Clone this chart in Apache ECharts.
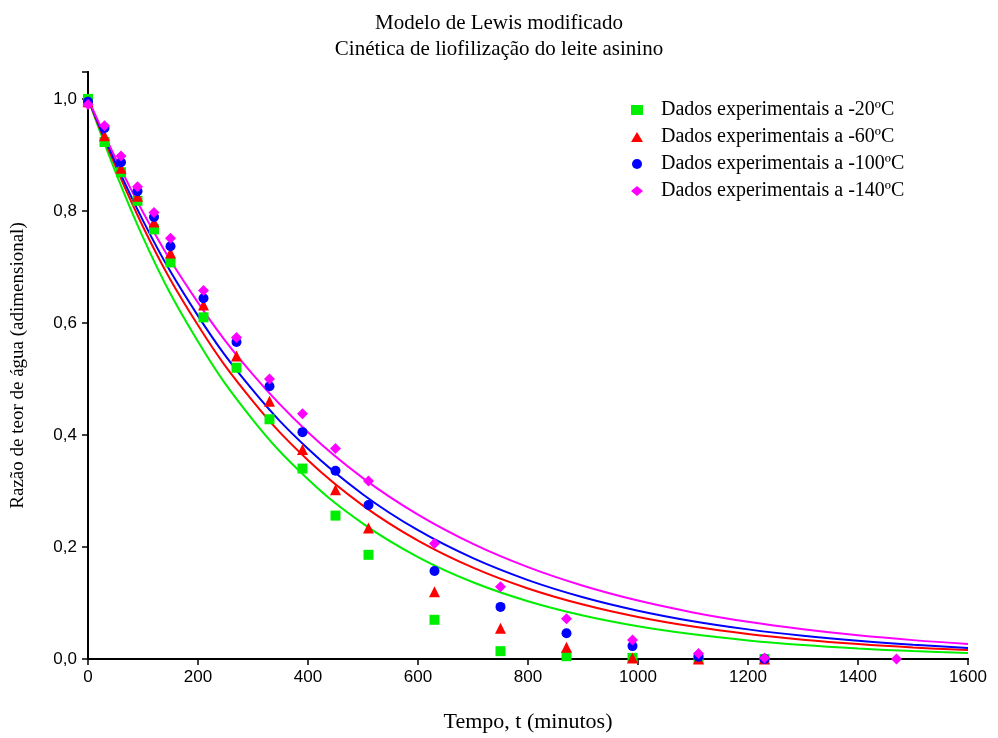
<!DOCTYPE html>
<html>
<head>
<meta charset="utf-8">
<script src="https://cdn.jsdelivr.net/npm/echarts@6/dist/echarts.min.js"></script>
<style>
html,body{margin:0;padding:0;background:#fff;}
#c{width:998px;height:738px;}
</style>
</head>
<body>
<div id="c"></div>
<script>
// Experimental data (time in minutes, moisture ratio)
var timesExp = [0,30,60,90,120,150,210,270,330,390,450,510,630,750,870,990,1110,1230];
var times140 = [0,30,60,90,120,150,210,270,330,390,450,510,630,750,870,990,1110,1230,1470];
var exp20  = [1.0,0.923,0.869,0.818,0.767,0.708,0.610,0.520,0.428,0.340,0.256,0.186,0.070,0.014,0.005,0.002,0.0,0.0];
var exp60  = [0.995,0.934,0.876,0.826,0.780,0.725,0.632,0.541,0.460,0.374,0.302,0.234,0.120,0.055,0.021,0.002,0.0,0.0];
var exp100 = [0.995,0.948,0.887,0.835,0.789,0.737,0.644,0.566,0.487,0.405,0.336,0.275,0.157,0.093,0.046,0.023,0.004,0.0];
var exp140 = [0.990,0.952,0.898,0.843,0.797,0.751,0.658,0.574,0.500,0.438,0.376,0.318,0.206,0.129,0.072,0.034,0.010,0.002,0.0];

// Model curves
var curveT = [0,100,200,300,400,500,600,700,800,900,1000,1100,1200,1300,1400,1500,1600];
var fit20  = [1,0.7528,0.5667,0.4266,0.3211,0.2417,0.1820,0.1370,0.1031,0.0776,0.0584,0.0440,0.0331,0.0249,0.0188,0.0141,0.0106];
var fit60  = [1,0.7718,0.5957,0.4598,0.3548,0.2739,0.2114,0.1631,0.1259,0.0972,0.0750,0.0579,0.0447,0.0345,0.0266,0.0205,0.0159];
var fit100 = [1,0.7827,0.6126,0.4795,0.3753,0.2938,0.2299,0.1800,0.1409,0.1103,0.0863,0.0675,0.0529,0.0414,0.0324,0.0254,0.0198];
var fit140 = [1,0.7977,0.6363,0.5076,0.4049,0.3230,0.2577,0.2055,0.1640,0.1308,0.1043,0.0832,0.0664,0.0530,0.0422,0.0337,0.0269];

var xTicks = [0,200,400,600,800,1000,1200,1400,1600];
var yTicks = [0,0.2,0.4,0.6,0.8,1.0];

var names = ['Dados experimentais a -20ºC','Dados experimentais a -60ºC','Dados experimentais a -100ºC','Dados experimentais a -140ºC'];
var colors = ['#00ee00','#ff0000','#0000ff','#ff00ff'];
var symbols = ['rect','triangle','circle','diamond'];

function pairs(xs, ys){ return xs.map(function(x,i){ return [x, ys[i]]; }); }

var serif = 'Liberation Serif';
var sans = 'Liberation Sans';

var fits = [fit20, fit60, fit100, fit140];
var exps = [exp20, exp60, exp100, exp140];
var expT = [timesExp, timesExp, timesExp, times140];

var series = [];
for (var i=0;i<4;i++){
  series.push({
    type:'line', name:'fit'+i, data: pairs(curveT, fits[i]), smooth:0.4,
    showSymbol:false, symbol:'none', lineStyle:{color:colors[i], width:2}, itemStyle:{color:colors[i]},
    z:2, silent:true, legendHoverLink:false
  });
}
var symSizes = [10,11,10,11];
for (var j=0;j<4;j++){
  series.push({
    type:'scatter', name:names[j], data: pairs(expT[j], exps[j]), symbol:symbols[j], symbolSize:symSizes[j],
    itemStyle:{color:colors[j], opacity:1}, z:3+j
  });
}

var chart = echarts.init(document.getElementById('c'), null, {renderer:'canvas'});
chart.setOption({
  animation:false,
  backgroundColor:'#fff',
  title:{
    text:'Modelo de Lewis modificado\nCinética de liofilização do leite asinino',
    left:'center', top:5,
    textStyle:{fontFamily:serif, fontSize:21, fontWeight:'normal', color:'#000', lineHeight:26}
  },
  legend:{
    data:names, orient:'vertical', left:626, top:95, itemGap:7,
    itemWidth:12, itemHeight:10, symbolKeepAspect:true,
    textStyle:{fontFamily:serif, fontSize:20, color:'#000', padding:[0,0,0,13]}
  },
  grid:{left:88, right:30, top:72, bottom:79, containLabel:false},
  xAxis:[{
    type:'value', min:xTicks[0], max:xTicks[xTicks.length-1], interval:200, position:'bottom',
    name:'Tempo, t (minutos)', nameLocation:'middle', nameGap:52,
    nameTextStyle:{fontFamily:serif, fontSize:22, color:'#000'},
    axisLine:{show:true, lineStyle:{color:'#000', width:2}},
    axisTick:{show:false},
    axisLabel:{fontFamily:sans, fontSize:17, color:'#000', margin:10, formatter:function(v){return String(v);}},
    splitLine:{show:false}
  },{
    type:'value', min:xTicks[0], max:xTicks[xTicks.length-1], interval:200, position:'top',
    axisLine:{show:true, lineStyle:{color:'#000', width:2}},
    axisTick:{show:true, inside:true, length:6, lineStyle:{color:'#000', width:1.5}},
    axisLabel:{show:false}, splitLine:{show:false}
  }],
  yAxis:[{
    type:'value', min:0, max:1.048, interval:0.2, position:'left',
    name:'Razão de teor de água (adimensional)', nameLocation:'middle', nameGap:60,
    nameTextStyle:{fontFamily:serif, fontSize:19, color:'#000'},
    axisLine:{show:true, lineStyle:{color:'#000', width:2}},
    axisTick:{show:false},
    axisLabel:{fontFamily:sans, fontSize:17, color:'#000', margin:11, showMaxLabel:false,
      formatter:function(v){ return yTicks.some(function(t){return Math.abs(t-v)<1e-6;}) ? v.toFixed(1).replace('.',',') : ''; }},
    splitLine:{show:false}
  },{
    type:'value', min:0, max:1.048, interval:0.2, position:'right',
    axisLine:{show:true, lineStyle:{color:'#000', width:2}},
    axisTick:{show:true, inside:true, length:6, lineStyle:{color:'#000', width:1.5}},
    axisLabel:{show:false}, splitLine:{show:false}
  }],
  series:series
});
</script>
</body>
</html>
